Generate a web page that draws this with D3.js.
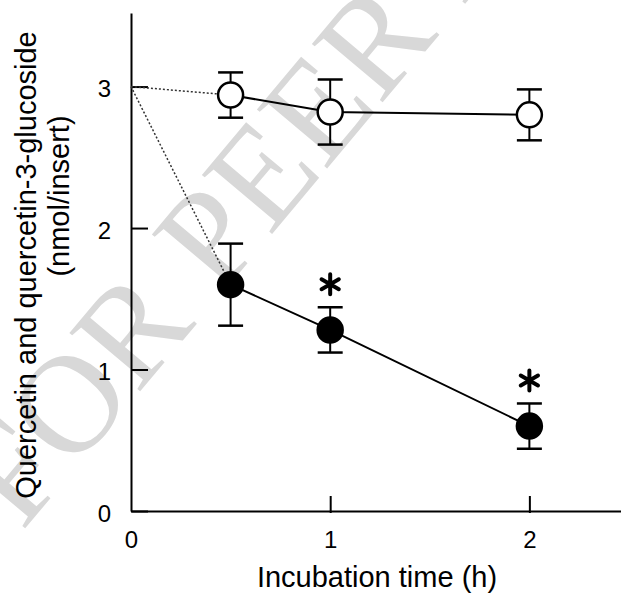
<!DOCTYPE html>
<html>
<head>
<meta charset="utf-8">
<script src="https://cdn.jsdelivr.net/npm/d3@7"></script>
<style>
  body { margin: 0; background: #fff; }
  text { font-family: "Liberation Sans", Arial, sans-serif; }
</style>
</head>
<body>
<div class="canvas"></div>
<script>
// data
const times = [0.5, 1, 2];
const startValue = 3.0;           // value at time 0 (dotted lines)
const openMean = [2.94, 2.82, 2.80];
const openErr  = [0.16, 0.23, 0.18];
const filledMean = [1.60, 1.28, 0.60];
const filledErr  = [0.29, 0.16, 0.16];
const significant = [false, true, true];   // asterisks on filled series
const xTicks = [0, 1, 2];
const yTicks = [0, 1, 2, 3];

const width = 621, height = 594;

const svg = d3.select('.canvas')
    .append('svg')
    .attr('width', width)
    .attr('height', height);

// watermark
svg.append('text')
    .attr('transform', 'translate(22,532) rotate(-50)')
    .attr('font-size', 140)
    .attr('fill', '#d8d8d8')
    .style('font-family', '"Liberation Serif", "Times New Roman", serif')
    .text('FOR PEER REVIEW');

// scales
const x = d3.scaleLinear().domain([0, 2.46]).range([131, 621]);
const y = d3.scaleLinear().domain([0, 3.52]).range([511, 13]);

const graph = svg.append('g');

// axes
const xAxis = d3.axisBottom(x)
    .tickValues(xTicks)
    .tickSizeInner(-15)
    .tickSizeOuter(0)
    .tickPadding(20)
    .tickFormat(d3.format('d'));

const yAxis = d3.axisLeft(y)
    .tickValues(yTicks)
    .tickSizeInner(-17)
    .tickSizeOuter(0)
    .tickPadding(20)
    .tickFormat(d3.format('d'));

const xAxisGroup = graph.append('g')
    .attr('transform', `translate(0, ${y(0)})`)
    .call(xAxis);

const yAxisGroup = graph.append('g')
    .attr('transform', `translate(${x(0)}, 0)`)
    .call(yAxis);

[xAxisGroup, yAxisGroup].forEach(g => {
    g.select('.domain').attr('stroke', '#000').attr('stroke-width', 2);
    g.selectAll('.tick line').attr('stroke', '#000').attr('stroke-width', 2);
    g.selectAll('.tick text')
        .attr('fill', '#000')
        .style('font-size', '24px')
        .style('font-family', '"Liberation Sans", Arial, sans-serif');
});
// tick at 0 on x sits on the y axis
xAxisGroup.selectAll('.tick line').filter(d => d === 0).remove();
xAxisGroup.selectAll('.tick line').attr('y2', -15).attr('y1', 2);
yAxisGroup.selectAll('.tick text').attr('dy', '0.42em');

// axis titles
svg.append('text')
    .attr('x', 377)
    .attr('y', 587)
    .attr('text-anchor', 'middle')
    .style('font-size', '29px')
    .text('Incubation time (h)');

svg.append('text')
    .attr('transform', 'translate(36, 265) rotate(-90)')
    .attr('text-anchor', 'middle')
    .style('font-size', '29px')
    .text('Quercetin and quercetin-3-glucoside');

svg.append('text')
    .attr('transform', 'translate(69, 196) rotate(-90)')
    .attr('text-anchor', 'middle')
    .style('font-size', '29px')
    .text('(nmol/insert)');

// dotted lines from time 0
const dotted = [openMean[0], filledMean[0]];
graph.selectAll('line.dotted')
    .data(dotted)
    .enter()
    .append('line')
    .attr('class', 'dotted')
    .attr('x1', x(0))
    .attr('y1', y(startValue))
    .attr('x2', x(times[0]))
    .attr('y2', d => y(d))
    .attr('stroke', '#333')
    .attr('stroke-width', 1.5)
    .attr('stroke-dasharray', '2,2');

const series = [
    { mean: openMean, err: openErr, fill: '#fff' },
    { mean: filledMean, err: filledErr, fill: '#000' }
];

const line = d3.line()
    .x(d => x(d.t))
    .y(d => y(d.v));

series.forEach(s => {
    const pts = times.map((t, i) => ({ t: t, v: s.mean[i], e: s.err[i] }));

    graph.append('path')
        .datum(pts)
        .attr('d', line)
        .attr('fill', 'none')
        .attr('stroke', '#000')
        .attr('stroke-width', 2);

    // error bars
    const eb = graph.append('g').selectAll('g')
        .data(pts)
        .enter()
        .append('g');
    eb.append('line')
        .attr('x1', d => x(d.t)).attr('x2', d => x(d.t))
        .attr('y1', d => y(d.v + d.e)).attr('y2', d => y(d.v - d.e))
        .attr('stroke', '#000').attr('stroke-width', 2);
    [1, -1].forEach(sign => {
        eb.append('line')
            .attr('x1', d => x(d.t) - 12.5).attr('x2', d => x(d.t) + 12.5)
            .attr('y1', d => y(d.v + sign * d.e)).attr('y2', d => y(d.v + sign * d.e))
            .attr('stroke', '#000').attr('stroke-width', 2.5);
    });

    graph.append('g').selectAll('circle')
        .data(pts)
        .enter()
        .append('circle')
        .attr('cx', d => x(d.t))
        .attr('cy', d => y(d.v))
        .attr('r', 12.5)
        .attr('fill', s.fill)
        .attr('stroke', '#000')
        .attr('stroke-width', 2.5);
});

// asterisks
const stars = times
    .map((t, i) => ({ t: t, top: filledMean[i] + filledErr[i], sig: significant[i] }))
    .filter(d => d.sig);

graph.selectAll('path.star')
    .data(stars)
    .enter()
    .append('path')
    .attr('class', 'star')
    .attr('d', d3.symbol(d3.symbolAsterisk, 280))
    .attr('transform', d => `translate(${x(d.t)}, ${y(d.top) - 23})`)
    .attr('stroke', '#000')
    .attr('stroke-width', 4)
    .attr('stroke-linecap', 'round')
    .attr('fill', 'none');
</script>
</body>
</html>
